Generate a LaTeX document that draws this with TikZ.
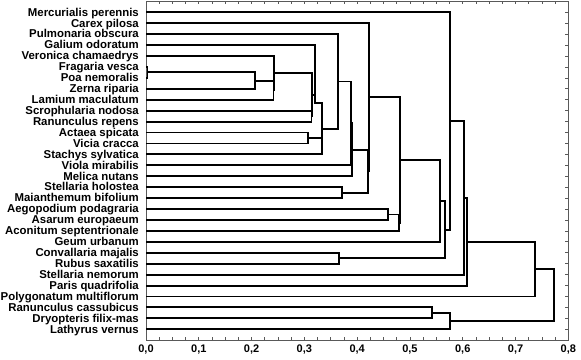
\documentclass[tikz,border=0pt]{standalone}
\usepackage{fontspec}
\setmainfont{Liberation Sans}
\usetikzlibrary{calc}
\newcommand\mergeat[4]{% child1, child2, name, x (px)
  \coordinate (#3-m) at ($(#1)!0.5!(#2)$);
  \coordinate (#3-x) at (#4,0);
  \coordinate (#3) at (#3-x |- #3-m);
  \draw[dline] (#1) -- (#1 -| #3) -- (#2 -| #3) -- (#2);
}
\begin{document}
\begin{tikzpicture}[x=1pt,y=-10.93pt,
  dline/.style={line width=1.9pt, black, line join=miter},
  frame/.style={line width=0.9pt, black!65},
  tick/.style={line width=0.7pt, black!65},
  lab/.style={anchor=base east, inner sep=0pt, yshift=-3.8pt,
    font=\bfseries\fontsize{11.4}{11.4}\selectfont},
  axl/.style={anchor=base, inner sep=0pt,
    font=\bfseries\fontsize{11}{11}\selectfont}]
\useasboundingbox (0pt,12.3pt) rectangle (581pt,-346.7pt);
% frame
\coordinate (fNW) at (146,-1);
\coordinate (fSE) at (568.3,30);
\draw[frame] (fNW) rectangle (fSE);
% ticks
\foreach \k in {0,...,32} {
  \draw[tick] ({146+\k*13.1975},-1) -- ++(0,0.27);
  \draw[tick] ({146+\k*13.1975},30) -- ++(0,-0.27);
}
\foreach \i in {0,...,29} {
  \draw[tick] (568.3,\i) -- ++(-3,0);
}
\foreach \k in {0,...,8} {
  \node[axl] (ax\k) at ({146+\k*52.79},31.1) {0,\k};
}
% leaves
\foreach \t [count=\i from 0] in {Mercurialis perennis, Carex pilosa,
  Pulmonaria obscura, Galium odoratum, Veronica chamaedrys, Fragaria vesca,
  Poa nemoralis, Zerna riparia, Lamium maculatum, Scrophularia nodosa,
  Ranunculus repens, Actaea spicata, Vicia cracca, Stachys sylvatica,
  Viola mirabilis, Melica nutans, Stellaria holostea, Maianthemum bifolium,
  Aegopodium podagraria, Asarum europaeum, Aconitum septentrionale,
  Geum urbanum, Convallaria majalis, Rubus saxatilis, Stellaria nemorum,
  Paris quadrifolia, Polygonatum multiflorum, Ranunculus cassubicus,
  Dryopteris filix-mas, Lathyrus vernus} {
  \node[lab] (l\i) at (139,\i) {\t};
  \coordinate (s\i) at (146,\i);
}
% clusters
\mergeat{s5}{s6}{fp}{147.5}
\mergeat{fp}{s7}{fpz}{255}
\mergeat{fpz}{s8}{fpzl}{273.5}
\mergeat{s4}{fpzl}{grpB}{274}
\mergeat{s9}{s10}{sr}{311.5}
\mergeat{grpB}{sr}{grpC}{312}
\mergeat{s11}{s12}{av}{307.7}
\coordinate (grpD) at (315,8.33);
\coordinate (grpE) at (322,10.665);
\draw[dline] (s3) -- (s3 -| grpD) -- (grpD) -- (grpD -| grpE) -- (s13 -| grpE) -- (s13);
\draw[dline] (grpC) -- (grpC -| grpD);
\draw[dline] (av) -- (av -| grpE);
\mergeat{s2}{grpE}{grpG}{338.3}
\mergeat{grpG}{s14}{gv}{351}
\mergeat{gv}{s15}{grpX}{351.7}
\mergeat{s16}{s17}{sm}{341.7}
\mergeat{grpX}{sm}{xsm}{368.3}
\mergeat{s1}{xsm}{grpF}{369}
\mergeat{s18}{s19}{aa}{388.3}
\mergeat{aa}{s20}{aac}{399.3}
\mergeat{grpF}{aac}{grpH}{400}
\mergeat{grpH}{s21}{grpI}{440}
\mergeat{s22}{s23}{cr}{339.3}
\mergeat{grpI}{cr}{grpJ}{445}
\mergeat{s0}{grpJ}{grpK}{450}
\mergeat{grpK}{s24}{grpL}{464}
\mergeat{grpL}{s25}{grpM}{467.3}
\mergeat{grpM}{s26}{grpN}{535}
\mergeat{s27}{s28}{rd}{431.7}
\mergeat{rd}{s29}{rdl}{450}
\mergeat{grpN}{rdl}{root}{554.3}
\end{tikzpicture}
\end{document}
